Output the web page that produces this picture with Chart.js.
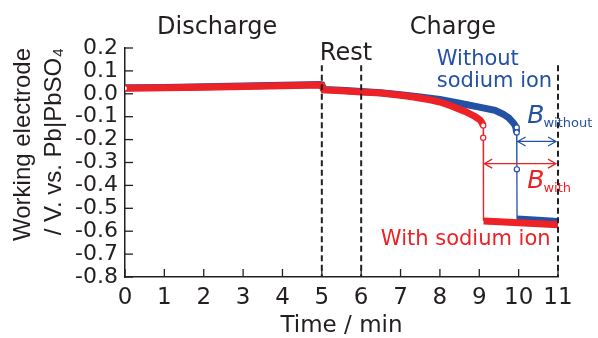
<!DOCTYPE html>
<html>
<head>
<meta charset="utf-8">
<script src="https://cdn.jsdelivr.net/npm/chart.js@4"></script>
<style>
  html, body { margin: 0; padding: 0; background: #fff; }
  #wrap { width: 598px; height: 338px; position: relative; }
</style>
</head>
<body>
<div id="wrap"><canvas id="chart"></canvas></div>
<script>
// Working electrode potential vs time
const blueT = [0, 1, 2, 3, 4, 4.95, 5.0, 5.05, 5.5, 6.0, 6.5, 7.0, 7.5, 8.0, 8.5, 9.0, 9.4, 9.6, 9.75, 9.85, 9.9, 9.93, 9.95, 9.955, 9.96, 10.5, 11.0];
const blueV = [0.026, 0.028, 0.031, 0.034, 0.037, 0.041, 0.039, 0.019, 0.015, 0.010, 0.005, -0.004, -0.014, -0.025, -0.041, -0.058, -0.072, -0.088, -0.105, -0.124, -0.135, -0.147, -0.169, -0.33, -0.547, -0.552, -0.558];

const redT = [0, 1, 2, 3, 4, 4.95, 5.0, 5.05, 5.5, 6.0, 6.5, 7.0, 7.25, 7.75, 8.0, 8.26, 8.64, 8.89, 9.02, 9.07, 9.1, 9.105, 9.11, 9.5, 10.0, 10.5, 11.0];
const redV = [0.024, 0.026, 0.029, 0.032, 0.035, 0.038, 0.036, 0.017, 0.013, 0.008, 0.003, -0.006, -0.012, -0.026, -0.036, -0.051, -0.077, -0.099, -0.114, -0.127, -0.138, -0.192, -0.555, -0.559, -0.563, -0.567, -0.572];

// sparse measured points shown as small circles
const blueMarkT = [9.95, 9.95, 9.955];
const blueMarkV = [-0.147, -0.169, -0.33];
const redMarkT = [0, 9.1, 9.1];
const redMarkV = [0.024, -0.138, -0.192];

// phase boundaries (min) and end-of-charge spans
const phaseEdges = [5, 6, 11];
const bWithout = [9.95, 11];
const bWith = [9.1, 11];

const ink = '#231f20';
const red = '#ec2227';
const blue = '#2451a4';

const toXY = (ts, vs) => ts.map((t, i) => ({ x: t, y: vs[i] }));

// thick band where points are dense, thin line across the sudden drops
const segWidth = ctx => Math.abs(ctx.p1.parsed.x - ctx.p0.parsed.x) < 0.015 ? 1.3 : 7;

const overlay = {
  id: 'overlay',
  afterDatasetsDraw(chart) {
    const { ctx, chartArea, scales: { x, y } } = chart;
    ctx.save();

    // dashed phase lines
    ctx.strokeStyle = ink;
    ctx.lineWidth = 2;
    ctx.setLineDash([6, 3.5]);
    phaseEdges.forEach(t => {
      const px = x.getPixelForValue(t);
      ctx.beginPath();
      ctx.moveTo(px, y.getPixelForValue(0.125));
      ctx.lineTo(px, chartArea.bottom);
      ctx.stroke();
    });
    ctx.setLineDash([]);

    // inward tick marks
    ctx.lineWidth = 1.3;
    y.ticks.forEach(tk => {
      const py = y.getPixelForValue(tk.value);
      ctx.beginPath();
      ctx.moveTo(chartArea.left, py);
      ctx.lineTo(chartArea.left + 8, py);
      ctx.stroke();
    });
    x.ticks.forEach(tk => {
      const px = x.getPixelForValue(tk.value);
      ctx.beginPath();
      ctx.moveTo(px, chartArea.bottom);
      ctx.lineTo(px, chartArea.bottom - 8);
      ctx.stroke();
    });

    // double-headed arrows
    const arrow = (span, v, color) => {
      const x1 = x.getPixelForValue(span[0]) + 1;
      const x2 = x.getPixelForValue(span[1]) - 2;
      const py = y.getPixelForValue(v);
      ctx.strokeStyle = color;
      ctx.lineWidth = 1.2;
      ctx.beginPath();
      ctx.moveTo(x1, py); ctx.lineTo(x2, py);
      ctx.moveTo(x1 + 8, py - 4.5); ctx.lineTo(x1, py); ctx.lineTo(x1 + 8, py + 4.5);
      ctx.moveTo(x2 - 8, py - 4.5); ctx.lineTo(x2, py); ctx.lineTo(x2 - 8, py + 4.5);
      ctx.stroke();
    };
    arrow(bWithout, -0.208, blue);
    arrow(bWith, -0.305, red);

    // text labels
    const text = (s, t, v, font, color, align) => {
      ctx.font = font;
      ctx.fillStyle = color;
      ctx.textAlign = align || 'left';
      ctx.textBaseline = 'alphabetic';
      ctx.fillText(s, x.getPixelForValue(t), y.getPixelForValue(v));
    };
    const big = '24px "DejaVu Sans"';
    const mid = '21px "DejaVu Sans"';
    text('Discharge', 2.34, 0.262, big, ink, 'center');
    text('Rest', 4.95, 0.148, big, ink);
    text('Charge', 8.33, 0.262, big, ink, 'center');
    text('Without', 7.92, 0.127, mid, blue);
    text('sodium ion', 7.92, 0.031, mid, blue);
    text('With sodium ion', 6.5, -0.66, mid, red);

    const bLabel = (sub, t, v, color) => {
      ctx.font = 'italic 25px "DejaVu Sans"';
      const w = ctx.measureText('B').width;
      text('B', t, v, ctx.font, color);
      ctx.font = '13px "DejaVu Sans"';
      ctx.fillStyle = color;
      ctx.textAlign = 'left';
      ctx.fillText(sub, x.getPixelForValue(t) + w - 1, y.getPixelForValue(v) + 4);
    };
    bLabel('without', 10.22, -0.127, blue);
    bLabel('with', 10.22, -0.41, red);

    ctx.restore();
  }
};

new Chart(document.getElementById('chart'), {
  type: 'scatter',
  data: {
    datasets: [
      {
        label: 'With sodium ion',
        data: toXY(redT, redV),
        showLine: true,
        borderColor: red,
        borderWidth: 7,
        pointRadius: 0,
        segment: { borderWidth: segWidth },
        order: 2
      },
      {
        label: 'Without sodium ion',
        data: toXY(blueT, blueV),
        showLine: true,
        borderColor: blue,
        borderWidth: 7,
        pointRadius: 0,
        segment: { borderWidth: segWidth },
        order: 3
      },
      {
        label: 'red points',
        data: toXY(redMarkT, redMarkV),
        pointRadius: 2.6,
        pointBorderWidth: 1.2,
        pointBorderColor: red,
        pointBackgroundColor: '#fff',
        order: 0
      },
      {
        label: 'blue points',
        data: toXY(blueMarkT, blueMarkV),
        pointRadius: 2.6,
        pointBorderWidth: 1.2,
        pointBorderColor: blue,
        pointBackgroundColor: '#fff',
        order: 1
      }
    ]
  },
  options: {
    responsive: true,
    maintainAspectRatio: false,
    animation: false,
    layout: { padding: { left: 0, right: 40, top: 48, bottom: 0 } },
    plugins: {
      legend: { display: false },
      tooltip: { enabled: false }
    },
    scales: {
      x: {
        type: 'linear',
        min: 0,
        max: 11,
        afterFit: s => { s.height = 61; },
        grid: { display: false, drawTicks: false },
        border: { display: true, color: ink, width: 1.5 },
        ticks: {
          stepSize: 1,
          autoSkip: false,
          maxRotation: 0,
          padding: 7,
          color: ink,
          font: { family: 'DejaVu Sans', size: 23 }
        },
        title: {
          display: true,
          text: 'Time / min',
          color: ink,
          padding: { top: 0, bottom: 0 },
          font: { family: 'DejaVu Sans', size: 23, lineHeight: 1.0 }
        }
      },
      y: {
        type: 'linear',
        min: -0.8,
        max: 0.2,
        afterFit: s => { s.width = 125; },
        grid: { display: false, drawTicks: false },
        border: { display: true, color: ink, width: 1.5 },
        ticks: {
          stepSize: 0.1,
          autoSkip: false,
          padding: 7,
          color: ink,
          font: { family: 'DejaVu Sans', size: 22 },
          callback: v => Math.abs(v) < 1e-9 ? '0.0' : v.toFixed(1)
        },
        title: {
          display: true,
          text: ['Working electrode', '/ V. vs. Pb|PbSO\u2084'],
          align: 'end',
          color: ink,
          padding: { top: 8, bottom: 0 },
          font: { family: 'Liberation Sans', size: 24, lineHeight: 1.3 }
        }
      }
    }
  },
  plugins: [overlay]
});
</script>
</body>
</html>
